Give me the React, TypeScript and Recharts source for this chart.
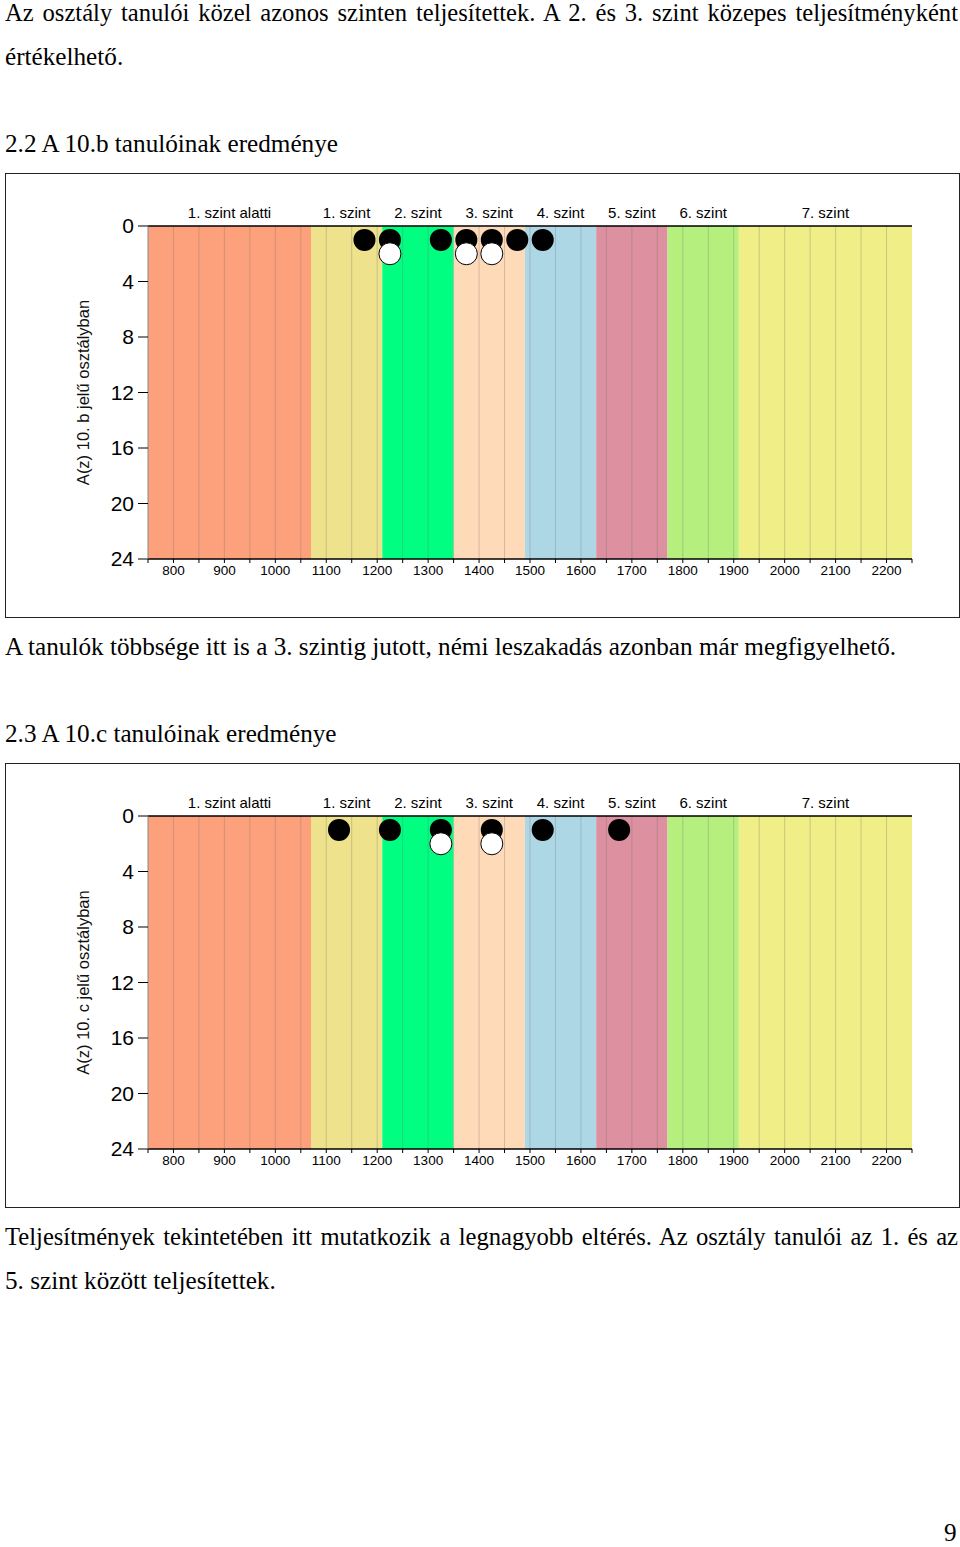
import React from 'react';
import {
  ScatterChart,
  Scatter,
  XAxis,
  YAxis,
  ReferenceArea,
  ReferenceLine,
} from 'recharts';

// ---- data ----
const levelNames = ['1. szint alatti', '1. szint', '2. szint', '3. szint', '4. szint', '5. szint', '6. szint', '7. szint'];
const levelStarts = [750, 1070, 1210, 1350, 1490, 1630, 1770, 1910];
const levelEnds = [1070, 1210, 1350, 1490, 1630, 1770, 1910, 2250];
const levelColors = ['#FCA17B', '#EEE38C', '#00FF80', '#FFDAB9', '#AED7E6', '#DD909F', '#B5F07F', '#F0EE86'];

const xTicks = [750, 800, 850, 900, 950, 1000, 1050, 1100, 1150, 1200, 1250, 1300, 1350, 1400, 1450, 1500, 1550, 1600, 1650, 1700, 1750, 1800, 1850, 1900, 1950, 2000, 2050, 2100, 2150, 2200, 2250];
const xLabelTicks = [800, 900, 1000, 1100, 1200, 1300, 1400, 1500, 1600, 1700, 1800, 1900, 2000, 2100, 2200];
const gridLines = [800, 850, 900, 950, 1000, 1050, 1100, 1150, 1200, 1250, 1300, 1350, 1400, 1450, 1500, 1550, 1600, 1650, 1700, 1750, 1800, 1850, 1900, 1950, 2000, 2050, 2100, 2150, 2200];
const yTicks = [0, 4, 8, 12, 16, 20, 24];

// 10.b class: first row (black) and second row (white) of students per score bin
const classBRow1 = [
  { x: 1175, y: 1 }, { x: 1225, y: 1 }, { x: 1325, y: 1 }, { x: 1375, y: 1 },
  { x: 1425, y: 1 }, { x: 1475, y: 1 }, { x: 1525, y: 1 },
];
const classBRow2 = [{ x: 1225, y: 2 }, { x: 1375, y: 2 }, { x: 1425, y: 2 }];

// 10.c class
const classCRow1 = [
  { x: 1125, y: 1 }, { x: 1225, y: 1 }, { x: 1325, y: 1 }, { x: 1425, y: 1 },
  { x: 1525, y: 1 }, { x: 1675, y: 1 },
];
const classCRow2 = [{ x: 1325, y: 2 }, { x: 1425, y: 2 }];

const blackDot = (p: any) => <circle cx={p.cx} cy={p.cy} r={11} fill="#000" />;
const whiteDot = (p: any) => <circle cx={p.cx} cy={p.cy} r={11} fill="#fff" stroke="#000" strokeWidth={1} />;

const chartFont = 'Arial, "Liberation Sans", sans-serif';

function LevelChart({ row1, row2, yLabel }: { row1: { x: number; y: number }[]; row2: { x: number; y: number }[]; yLabel: string }) {
  return (
    <ScatterChart
      width={955}
      height={445}
      margin={{ top: 33, right: 48, bottom: 29, left: 83 }}
      style={{ fontFamily: chartFont }}
    >
      <XAxis
        xAxisId={0}
        type="number"
        dataKey="x"
        domain={[750, 2250]}
        ticks={xTicks}
        interval={0}
        allowDataOverflow
        height={30}
        tickSize={4}
        tickMargin={2}
        axisLine={{ stroke: '#000', strokeWidth: 1.5 }}
        tickLine={{ stroke: '#000' }}
        tick={{ fontSize: 13.5, fill: '#000' }}
        tickFormatter={(v: number) => (xLabelTicks.includes(v) ? String(v) : '')}
      />
      <XAxis
        xAxisId="top"
        orientation="top"
        type="number"
        dataKey="x"
        domain={[750, 2250]}
        ticks={xTicks}
        interval={0}
        allowDataOverflow
        height={20}
        tickSize={4}
        axisLine={{ stroke: '#000', strokeWidth: 1.5 }}
        tickLine={{ stroke: '#000' }}
        tick={false}
      />
      <YAxis
        type="number"
        dataKey="y"
        domain={[0, 24]}
        reversed
        ticks={yTicks}
        interval={0}
        allowDataOverflow
        width={60}
        tickSize={10}
        tickMargin={4}
        axisLine={{ stroke: '#888' }}
        tickLine={{ stroke: '#000' }}
        tick={{ fontSize: 21, fill: '#000' }}
        label={(props: any) => {
          const vb = props.viewBox || {};
          const cx = (vb.x ?? 83) - 5;
          const cy = (vb.y ?? 53) + (vb.height ?? 333) / 2;
          return (
            <text
              x={cx}
              y={cy}
              transform={`rotate(-90, ${cx}, ${cy})`}
              textAnchor="middle"
              dominantBaseline="central"
              fontSize={16.5}
              fill="#111"
              fontFamily={chartFont}
            >
              {yLabel}
            </text>
          );
        }}
      />
      {levelNames.map((name, i) => (
        <ReferenceArea
          key={name}
          xAxisId={0}
          x1={levelStarts[i]}
          x2={levelEnds[i]}
          y1={0}
          y2={24}
          fill={levelColors[i]}
          fillOpacity={1}
          stroke="none"
          ifOverflow="visible"
          label={{ value: name, position: 'top', offset: 8, fontSize: 15, fill: '#000', fontFamily: chartFont }}
        />
      ))}
      {gridLines.map((g) => (
        <ReferenceLine key={g} xAxisId={0} x={g} stroke="rgba(110,110,110,0.3)" strokeWidth={1} />
      ))}
      <Scatter xAxisId={0} data={row1} shape={blackDot} isAnimationActive={false} />
      <Scatter xAxisId={0} data={row2} shape={whiteDot} isAnimationActive={false} />
    </ScatterChart>
  );
}

const serif = '"Liberation Serif", "Times New Roman", serif';
const bodySize = 25.2;
const justifiedSize = 24.6;

function Line({ top, children }: { top: number; children: React.ReactNode }) {
  return (
    <div
      style={{
        position: 'absolute',
        left: 5,
        top: top - 15,
        height: 30,
        lineHeight: '30px',
        fontSize: bodySize,
        fontFamily: serif,
        color: '#000',
        whiteSpace: 'nowrap',
      }}
    >
      {children}
    </div>
  );
}

function JustifiedLine({ top, children }: { top: number; children: React.ReactNode }) {
  return (
    <div
      style={{
        position: 'absolute', left: 5, top: top - 15, width: 953, height: 30, lineHeight: '30px',
        fontSize: justifiedSize, fontFamily: serif, color: '#000', textAlign: 'justify', textAlignLast: 'justify',
        whiteSpace: 'nowrap',
      } as React.CSSProperties}
    >
      {children}
    </div>
  );
}

export default function App() {
  return (
    <div style={{ position: 'absolute', left: 0, top: 0, width: 960, height: 1547, background: '#fff', overflow: 'hidden' }}>
      <JustifiedLine top={13}>
        Az osztály tanulói közel azonos szinten teljesítettek. A 2. és 3. szint közepes teljesítményként
      </JustifiedLine>
      <Line top={57}>értékelhető.</Line>
      <Line top={144}>2.2 A 10.b tanulóinak eredménye</Line>

      <div style={{ position: 'absolute', left: 5, top: 173, width: 955, height: 445, border: '1.5px solid #222', boxSizing: 'border-box' }} />
      <div style={{ position: 'absolute', left: 5, top: 173 }}>
        <LevelChart row1={classBRow1} row2={classBRow2} yLabel="A(z) 10. b jelű osztályban" />
      </div>

      <Line top={647}>A tanulók többsége itt is a 3. szintig jutott, némi leszakadás azonban már megfigyelhető.</Line>
      <Line top={734}>2.3 A 10.c tanulóinak eredménye</Line>

      <div style={{ position: 'absolute', left: 5, top: 763, width: 955, height: 445, border: '1.5px solid #222', boxSizing: 'border-box' }} />
      <div style={{ position: 'absolute', left: 5, top: 763 }}>
        <LevelChart row1={classCRow1} row2={classCRow2} yLabel="A(z) 10. c jelű osztályban" />
      </div>

      <JustifiedLine top={1237}>
        Teljesítmények tekintetében itt mutatkozik a legnagyobb eltérés. Az osztály tanulói az 1. és az
      </JustifiedLine>
      <Line top={1281}>5. szint között teljesítettek.</Line>

      <div style={{ position: 'absolute', left: 944, top: 1533 - 15, height: 30, lineHeight: '30px', fontSize: bodySize, fontFamily: serif }}>
        9
      </div>
    </div>
  );
}
